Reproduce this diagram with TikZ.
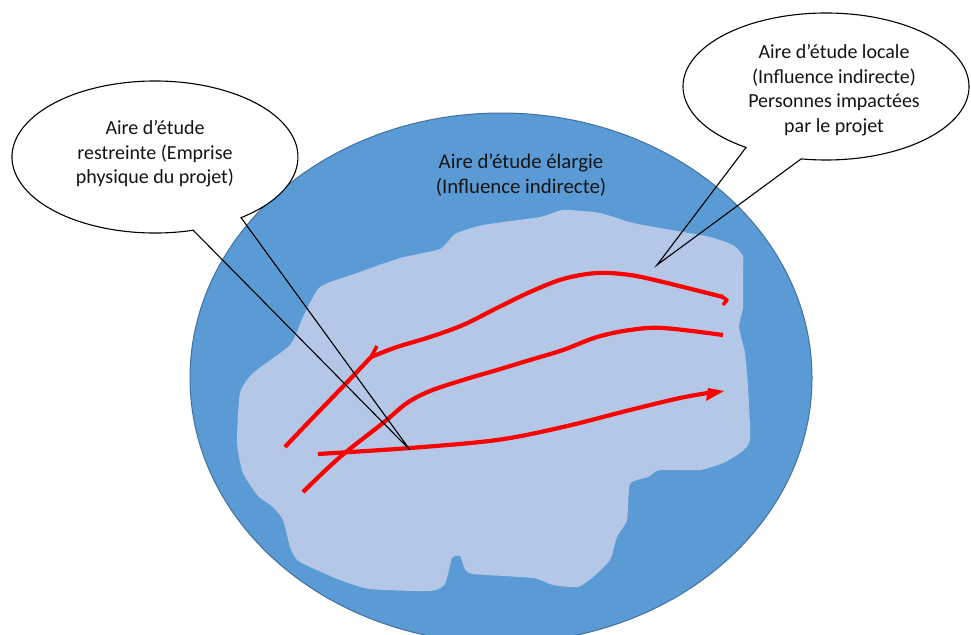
\documentclass[tikz,border=0pt]{standalone}
\usepackage{fontspec}
\setmainfont{Carlito}
\usetikzlibrary{calc}
\definecolor{outerblue}{HTML}{5B9BD5}
\definecolor{outeredge}{HTML}{41719C}
\definecolor{innerblue}{HTML}{B4C7E7}
\definecolor{txt}{HTML}{141414}
\begin{document}
\begin{tikzpicture}[x=1pt,y=-1pt,
  lbl/.style={align=center, text=txt, inner sep=0pt, font=\fontsize{20}{24.5}\selectfont},
  redpath/.style={draw=red, line width=4.2pt, line cap=butt, line join=round},
  callout/.style={draw=black, line width=1.1pt, line join=miter}]
\useasboundingbox (0,0) rectangle (971,634);
\begin{scope}
  \clip (0,0) rectangle (971,634);
  \filldraw[fill=outerblue, draw=outeredge, line width=1pt] (501,378) ellipse [x radius=311, y radius=265];
\end{scope}
% inner study area
\fill[innerblue] plot[smooth cycle, tension=0.35] coordinates {
 (400,258) (440,249) (455,234) (483,225) (540,217) (563,210) (600,213) (633,223)
 (683,232) (710,237) (733,245) (743,256) (743,270) (743,307) (739,327) (745,353)
 (748,387) (750,440) (740,453) (723,463) (700,470) (660,470) (648,477) (630,484)
 (627,520) (617,537) (610,560) (593,577) (578,587) (553,585) (533,578) (473,574)
 (465,569) (460,556) (452,558) (445,584) (430,591) (370,589) (340,580) (310,567)
 (297,560) (290,547) (283,520) (273,507) (258,496) (243,473) (237,443) (240,393)
 (253,373) (290,345) (303,317) (320,287) (357,273)};
% red strokes
\draw[redpath] plot[smooth, tension=0.55] coordinates {
 (723,297) (663,282) (630,275) (597,273) (563,279) (530,292) (497,308) (463,325)
 (430,337) (397,347) (371,357)};
\draw[redpath, line width=3.5pt] (721,296) -- (727,300) -- (723,305);
\draw[redpath, line width=3.5pt] (371,357) -- (377,346);
\draw[redpath] (371,357) .. controls (345,385) and (315,415) .. (285,447);
\draw[redpath] plot[smooth, tension=0.55] coordinates {
 (723,335) (663,328) (630,330) (597,337) (563,350) (530,360) (497,370) (463,380)
 (430,391) (407,403) (383,423) (340,457) (303,492)};
\draw[redpath] plot[smooth, tension=0.55] coordinates {
 (318,454) (410,448) (497,440) (563,427) (630,410) (680,398) (714,392)};
\fill[red] (708,388) -- (724,391) -- (706,401) -- cycle;
% central label
\node[lbl, font=\fontsize{20.8}{24.5}\selectfont] (wide) at (521,175) {Aire d’étude élargie\\(Influence indirecte)};
% left callout
\coordinate (lc) at (155,157);
\coordinate (ltip) at (410,450);
\fill[white] (lc) ellipse [x radius=143, y radius=76];
\draw[callout] ($(lc)+(74.5:143 and 76)$) arc[start angle=74.5, end angle=413, x radius=143, y radius=76] -- (ltip) -- cycle;
\node[lbl] (restr) at (155,154) {Aire d’étude\\restreinte (Emprise\\physique du projet)};
% right callout
\coordinate (rc) at (826,86.5);
\coordinate (rtip) at (657,265);
\fill[white] (rc) ellipse [x radius=143, y radius=73.5];
\draw[callout] ($(rc)+(124:143 and 73.5)$) arc[start angle=124, end angle=460, x radius=143, y radius=73.5] -- (rtip) -- cycle;
\node[lbl] (local) at (834,90) {Aire d’étude locale\\(Influence indirecte)\\Personnes impactées\\par le projet};
\end{tikzpicture}
\end{document}
